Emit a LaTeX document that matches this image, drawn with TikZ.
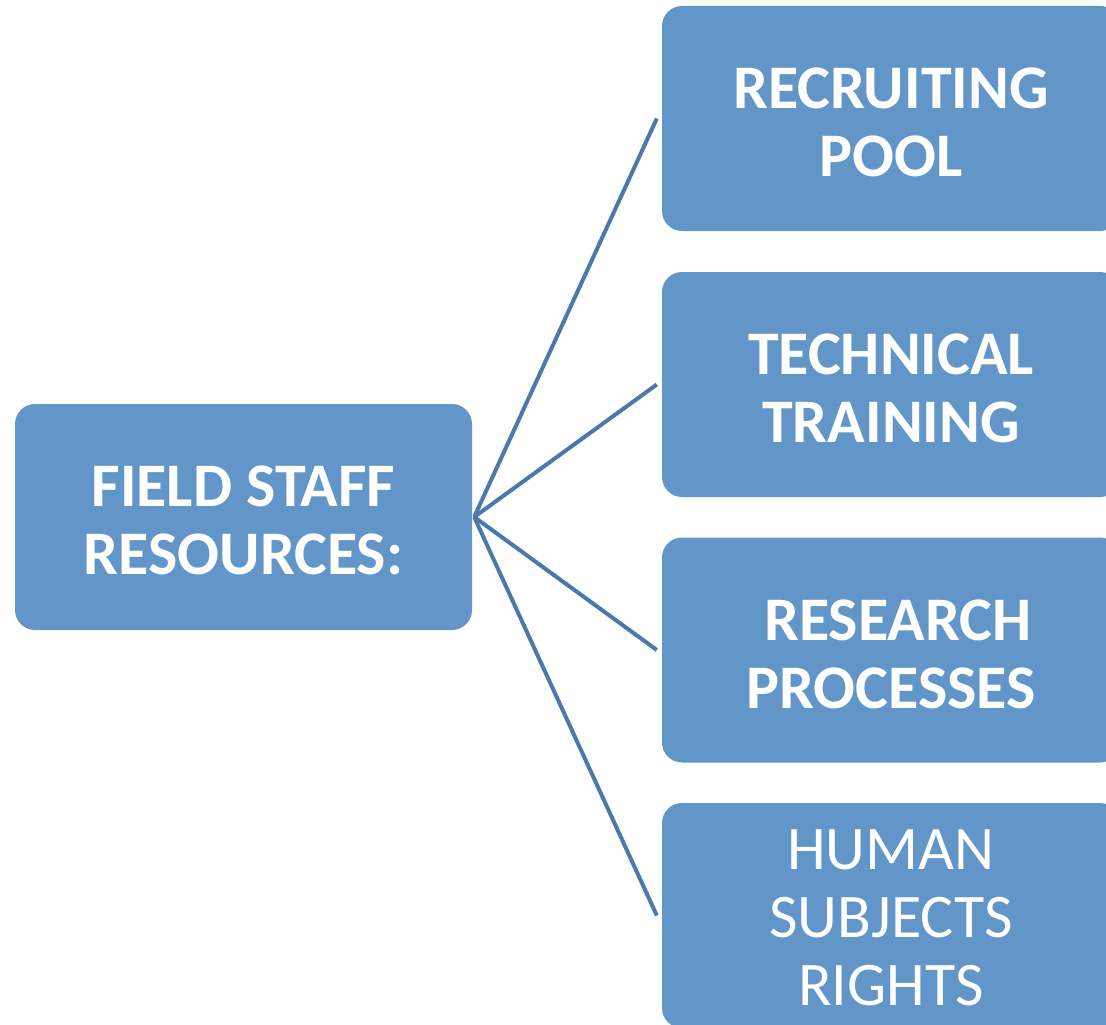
\documentclass[tikz,border=0pt]{standalone}
\usepackage{fontspec}
\setmainfont{Carlito}
\definecolor{boxblue}{RGB}{98,150,200}
\definecolor{lineblue}{RGB}{74,122,170}
\tikzset{
  topicbox/.style={rounded corners=20pt, fill=boxblue, inner sep=0pt,
    minimum width=458pt, minimum height=225pt},
  topictext/.style={text=white, align=center, inner sep=0pt, yshift=-4pt,
    font=\bfseries\fontsize{62}{68}\selectfont},
  branch/.style={draw=lineblue, line width=4pt}
}
\begin{document}
\begin{tikzpicture}[x=1pt, y=-1pt]
\clip (0,0) rectangle (1106,1025);

\node[topicbox, minimum width=457pt, minimum height=226pt,
  label={[topictext, yshift=1pt]center:FIELD STAFF\\RESOURCES:}] (field) at (243.5,517) {};

\node[topicbox, label={[topictext]center:RECRUITING\\POOL}] (recruit) at (891,118.5) {};
\node[topicbox, label={[topictext]center:TECHNICAL\\TRAINING}] (training) at (891,384.5) {};
\node[topicbox, label={[topictext]center:\hspace*{14pt}RESEARCH\\PROCESSES}] (research) at (891,650) {};
\node[topicbox, label={[topictext, yshift=1.5pt, font=\fontsize{62}{68}\selectfont]center:HUMAN\\SUBJECTS\\RIGHTS}] (rights) at (891,915.5) {};

\coordinate (hub) at ([xshift=2pt]field.east);
\foreach \b in {recruit, training, research, rights}
  \draw[branch] (hub) -- ([xshift=-5pt]\b.west);
\end{tikzpicture}
\end{document}
